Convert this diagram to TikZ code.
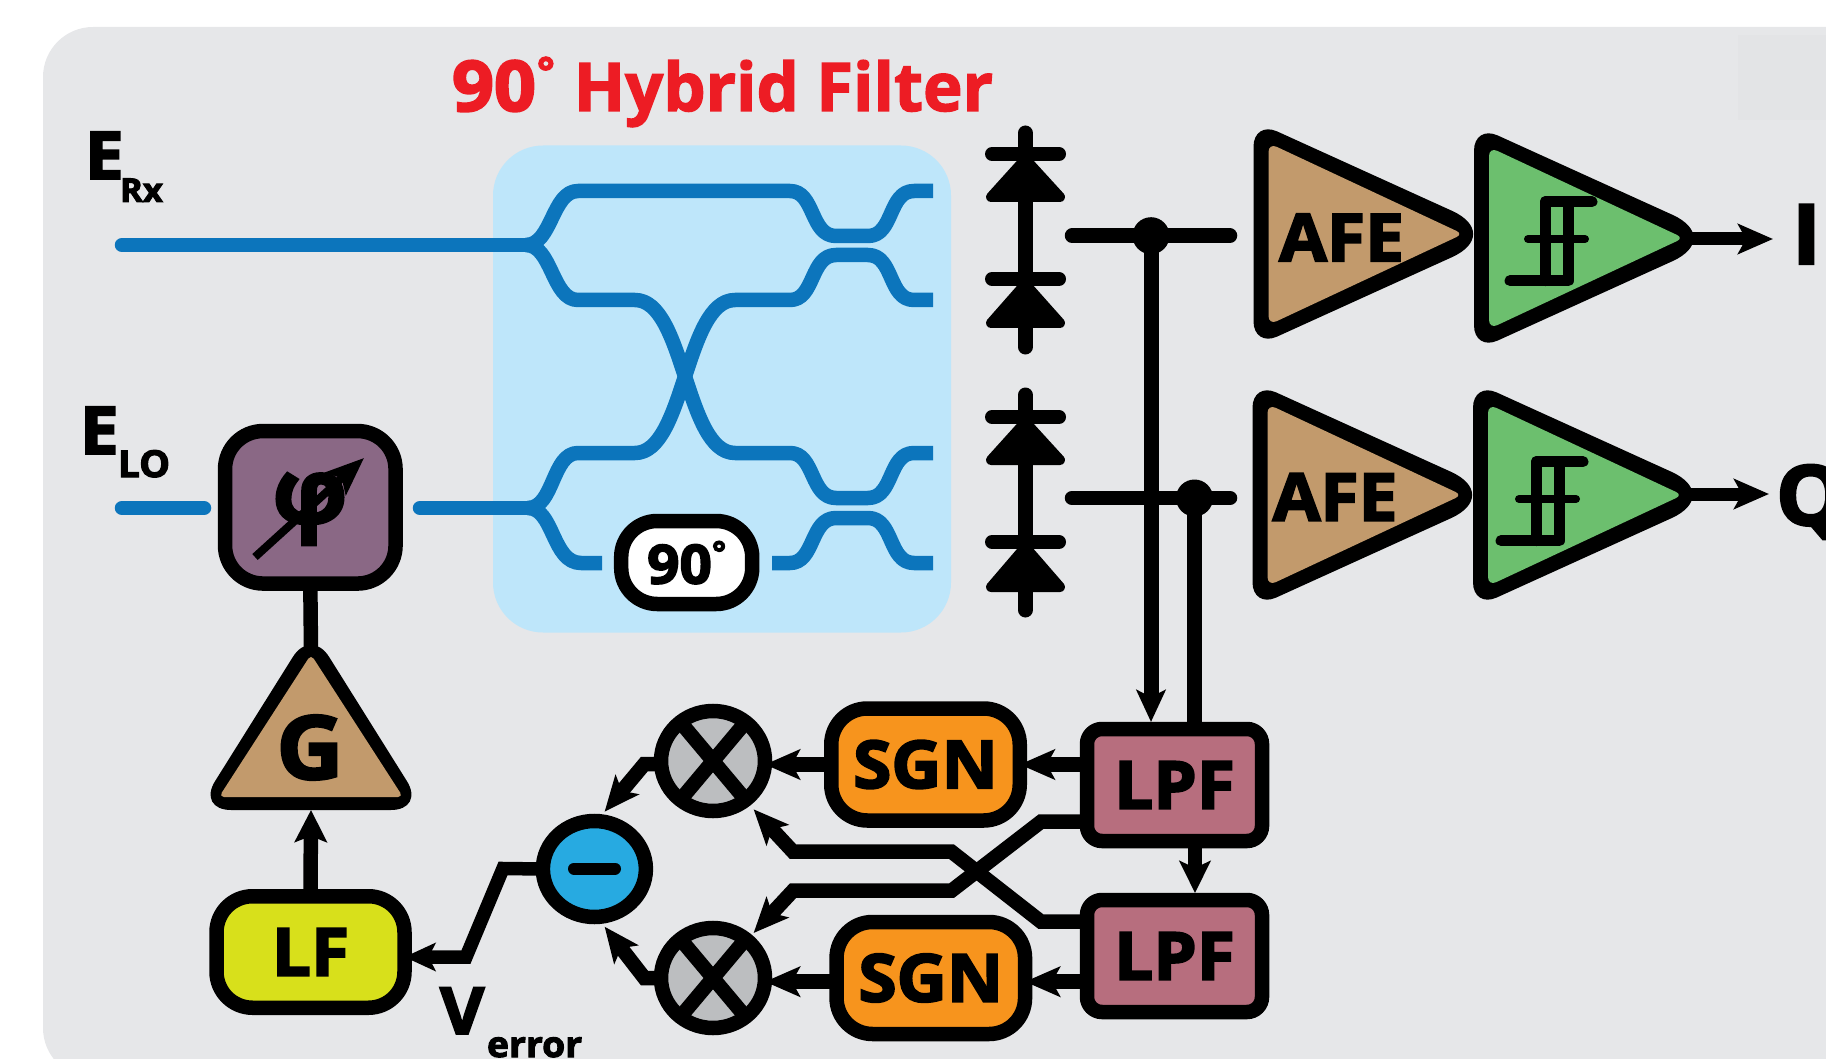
\documentclass[tikz,border=0pt]{standalone}
\usepackage{fontspec}
\setmainfont{Open Sans}[BoldFeatures={FakeBold=3,FakeStretch=1.05}]
\newfontfamily\ttlf{Open Sans}[BoldFeatures={FakeBold=2}]
\usetikzlibrary{arrows.meta,shapes.geometric,calc}
\newcommand\fs[1]{\fontsize{#1}{#1}\selectfont\bfseries}
\definecolor{bgc}{HTML}{E6E7E9}
\definecolor{hyb}{HTML}{BEE6FA}
\definecolor{wg}{HTML}{0C75BC}
\definecolor{tan}{HTML}{C29A6C}
\definecolor{grn}{HTML}{6CBF6E}
\definecolor{plum}{HTML}{8A6885}
\definecolor{lfc}{HTML}{D8E01B}
\definecolor{org}{HTML}{F7941D}
\definecolor{lpfc}{HTML}{B76E7E}
\definecolor{mulc}{HTML}{BCBEC0}
\definecolor{minc}{HTML}{27AAE1}
\definecolor{ttl}{HTML}{ED1C24}
\tikzset{
  x=1pt,y=-1pt,
  guide/.style={draw=wg,line width=14.5pt,line join=round},
  wire/.style={draw=black,line width=14.5pt,miter limit=10},
  arr/.style={wire,-{Stealth[length=35pt,width=30pt,inset=8pt]}},
  rbox/.style={draw=black,line width=14.5pt,rounded corners=#1,inner sep=0pt,outer sep=0pt,align=center},
  ring/.style={draw=black,ellipse,line width=14.5pt,inner sep=0pt,outer sep=0pt},
  lab/.style={inner sep=0pt,outer sep=0pt,anchor=base west},
  bar/.style={draw=black,line width=14pt,line cap=round},
  diotri/.style={draw=black,fill=black,line width=10pt,line join=round},
  hys/.style={draw=black,line width=11pt,line cap=round,line join=round},
}
% amplifier: #1 x shift, #2 y shift, #3 colour
\newcommand\ampshape[3]{%
  \begin{scope}[shift={(#1,#2)}]
  \fill[black] (1253.5,234) [rounded corners=26pt] -- (1253.5,120.7) [rounded corners=56pt] -- (1503,234) [rounded corners=26pt] -- (1253.5,347.3) -- cycle;
  \fill[#3] (1268.5,234) [rounded corners=9pt] -- (1268.5,143) [rounded corners=7pt] -- (1463,234) [rounded corners=9pt] -- (1268.5,325) -- cycle;
  \end{scope}}
\begin{document}
\begin{tikzpicture}
\useasboundingbox (0,0) rectangle (1826,1059);
\clip (0,0) rectangle (1826,1059);
\fill[bgc,rounded corners=50pt] (43,27) rectangle (1900,1078);
\fill[black!1.2!bgc] (1738,35) rectangle (1826,120);

\node[lab,text=ttl] (title) at (452,111) {\fontsize{70}{70}\selectfont\bfseries 90\kern1pt\raisebox{0.36em}{\fontsize{40}{40}\selectfont\bfseries °}\kern19pt\ttlf\fs{67}Hybrid Filter};
\node[lab] (erx) at (85,179) {\fs{66}E};
\node[lab] (erxs) at (120,202) {\fs{33}Rx};
\node[lab] (elo) at (80,454) {\fs{66}E};
\node[lab] (elos) at (118,477) {\fs{37}LO};
\node[lab] (verr) at (440,1034) {\fs{65}V};
\node[lab] (verrs) at (487,1057) {\fs{35.5}error};
\node[lab] (iout) at (1792,264) {\fs{83}I};
\node[lab] (qout) at (1776,525) {\fs{83}Q};

% hybrid
\node[fill=hyb,rounded corners=50pt,minimum width=458pt,minimum height=487pt,inner sep=0pt] (hybrid) at (722,389) {};
\draw[guide,line cap=round] (122,245) -- (526,245);
\draw[guide] (526,245) .. controls (552,245) and (552,191) .. (578,191) -- (790,191)
  .. controls (815,191) and (810,236) .. (836,236) -- (868,236)
  .. controls (894,236) and (888,191) .. (914,191) -- (933,191);
\draw[guide] (526,245) .. controls (552,245) and (552,300) .. (578,300) -- (635,300)
  .. controls (685,300) and (685,453) .. (735,453) -- (790,453)
  .. controls (815,453) and (810,498) .. (836,498) -- (868,498)
  .. controls (894,498) and (888,453) .. (914,453) -- (933,453);
\draw[guide] (528,508) .. controls (554,508) and (552,453) .. (578,453) -- (635,453)
  .. controls (685,453) and (685,300) .. (735,300) -- (790,300)
  .. controls (815,300) and (810,255) .. (836,255) -- (868,255)
  .. controls (894,255) and (888,300) .. (914,300) -- (933,300);
\draw[guide] (528,508) .. controls (554,508) and (552,563) .. (581,563) -- (602,563);
\draw[guide] (772,563) -- (790,563) .. controls (815,563) and (810,518) .. (836,518) -- (868,518)
  .. controls (894,518) and (888,563) .. (914,563) -- (933,563);
\draw[guide,line cap=round] (122,508) -- (204,508);
\draw[guide,line cap=round] (420,508) -- (528,508);
\node[rbox=36pt,fill=white,minimum width=131pt,minimum height=83pt] (ninety) at (686.7,562.5) {\fs{54}90\raisebox{0.36em}{\fs{32}°}};

% photodiodes
\foreach \ya/\yb/\yc/\yd/\ye/\yf in {126/154/197/279/323/354, 388/417/460/542/587/617}{
  \draw[draw=black,line width=15pt,line cap=round] (1025.3,\ya+7) -- (1025.3,\yf-7);
  \draw[bar] (992,\yb) -- (1059,\yb);
  \draw[bar] (992,\yd) -- (1059,\yd);
  \draw[diotri] (1025.3,\yb+5) -- (1060,\yc) -- (991,\yc) -- cycle;
  \draw[diotri] (1025.3,\yd+5) -- (1060,\ye) -- (991,\ye) -- cycle;
}

% amplifiers
\ampshape{0}{0}{tan}
\node[inner sep=0pt] (afea) at (1341.5,237.5) {\fs{66}AFE};
\ampshape{-1}{261}{tan}
\node[inner sep=0pt] (afeb) at (1335,497) {\fs{66}AFE};
\ampshape{220.5}{4}{grn}
\ampshape{219.5}{261}{grn}
\foreach \dx/\dy in {0/0,-9/260}{
  \draw[hys] (1510+\dx,280.7+\dy) -- (1568.5+\dx,280.7+\dy) -- (1568.5+\dx,201.7+\dy) -- (1545.5+\dx,201.7+\dy) -- (1545.5+\dx,280.7+\dy);
  \draw[hys] (1545.5+\dx,201.7+\dy) -- (1592+\dx,201.7+\dy);
  \draw[hys,line width=8pt] (1528+\dx,239+\dy) -- (1585+\dx,239+\dy);
}
\coordinate (ioutc) at (1773,239);
\coordinate (qoutc) at (1769,494);
\coordinate (ampi) at (1690,239);
\coordinate (ampq) at (1689,494);
\draw[arr,line width=13pt] (ampi) -- (ioutc);
\draw[arr,line width=13pt] (ampq) -- (qoutc);

% boxes
\node[rbox=38pt,fill=plum,minimum width=170.5pt,minimum height=152.5pt] (phase) at (310.3,507.3) {};
\node[inner sep=0pt,outer sep=0pt] (phi) at (310,509) {\fs{90}φ};
\coordinate (pa) at (255,557);
\coordinate (pb) at (364,458);
\draw[draw=black,line width=8pt,-{Stealth[length=38pt,width=30pt,inset=8pt]}] (pa) -- (pb);

\coordinate (gtop) at (311,650);
\coordinate (gbot) at (311,810);
\draw[wire] (phase.south) -- (gtop);
\fill[black,rounded corners=34pt] (197,810) -- (425,810) -- (311,628) -- cycle;
\fill[tan,rounded corners=5pt] (219,797) -- (403,797) -- (311,654.5) -- cycle;
\node[inner sep=0pt] (gain) at (310,747.5) {\fs{88}G};
\node[rbox=36pt,fill=lfc,minimum width=188pt,minimum height=111.5pt] (lf) at (310.5,952) {\fs{66}LF};
\draw[arr,-{Stealth[length=32pt,width=32pt,inset=6pt]}] (lf.north) -- (gbot);

\node[rbox=36pt,fill=org,minimum width=188.5pt,minimum height=112pt] (sa) at (925.5,764.5) {\fs{66}SGN};
\node[rbox=36pt,fill=org,minimum width=188.5pt,minimum height=112pt] (sb) at (930.8,978) {\fs{66}SGN};
\node[rbox=15pt,fill=lpfc,minimum width=175pt,minimum height=112pt] (la) at (1174.5,785) {\fs{66}LPF};
\node[rbox=15pt,fill=lpfc,minimum width=175pt,minimum height=112pt] (lb) at (1174.5,956) {\fs{66}LPF};
\node[ring,fill=mulc,minimum width=104pt,minimum height=100pt] (ma) at (713,761) {};
\node[ring,fill=mulc,minimum width=104pt,minimum height=100pt] (mb) at (713,978) {};
\foreach \m in {ma,mb}{
  \draw[wire] (\m.130) -- (\m.310);
  \draw[wire] (\m.50) -- (\m.230);
}
\node[ring,fill=minc,minimum width=103pt,minimum height=96pt] (mn) at (594.4,869) {};
\coordinate (mnl) at (574,868.5);
\coordinate (mnr) at (615,868.5);
\draw[draw=black,line width=12pt,line cap=round] (mnl) -- (mnr);

% bias taps
\coordinate (ta) at (1072,235.7);
\coordinate (tb) at (1230,235.7);
\coordinate (tc) at (1072,498);
\coordinate (td) at (1230,498);
\coordinate (da) at (1151,235.7);
\coordinate (db) at (1194.5,498);
\draw[draw=black,line width=14.5pt,line cap=round] (ta) -- (tb);
\draw[draw=black,line width=14.5pt,line cap=round] (tc) -- (td);
\fill (da) circle (18.5pt);
\fill (db) circle (18.5pt);
\coordinate (dae) at (1151,722);
\coordinate (dbe) at (1194.5,722);
\draw[draw=black,line width=15pt,-{Stealth[length=32pt,width=29pt,inset=7pt]}] (da) -- (dae);
\draw[draw=black,line width=15pt] (db) -- (dbe);

% signal paths
\coordinate (y1) at (0,764.5);
\coordinate (y2) at (0,981.7);
\coordinate (lafx) at (1195,848);
\coordinate (lbfx) at (1195,893);
\draw[arr] (sa.west) -- (ma.east|-y1);
\draw[arr] (la.west|-y1) -- (sa.east);
\draw[arr] (sb.west|-y2) -- (mb.east|-y2);
\draw[arr] (lb.west|-y2) -- (sb.east|-y2);
\draw[arr,-{Stealth[length=32pt,width=31pt,inset=7pt]}] (lafx) -- (lbfx);
\coordinate (xa) at (1041,821.7);
\coordinate (xb) at (951.5,890.7);
\coordinate (xc) at (793,890.7);
\coordinate (xd) at (753.6,933);
\coordinate (xe) at (1041,921.7);
\coordinate (xf) at (951.5,851.7);
\coordinate (xg) at (793,851.7);
\coordinate (xh) at (753.6,809.3);
\draw[arr] (la.west|-xa) -- (xa) -- (xb) -- (xc) -- (xd);
\draw[arr] (lb.west|-xe) -- (xe) -- (xf) -- (xg) -- (xh);
\coordinate (ca) at (644.4,764);
\coordinate (cb) at (644.4,978);
\coordinate (ta2) at (604.6,811.7);
\coordinate (tb2) at (604.6,926.7);
\draw[arr] (ma.west|-ca) -- (ca) -- (ta2);
\draw[arr] (mb.west|-cb) -- (cb) -- (tb2);
\coordinate (ve) at (503,868.5);
\coordinate (vf) at (466,957);
\draw[arr,line width=13.5pt,-{Stealth[length=31pt,width=28pt,inset=7pt]}] (mn.west) -- (ve) -- (vf) -- (lf.east|-vf);
\end{tikzpicture}
\end{document}
